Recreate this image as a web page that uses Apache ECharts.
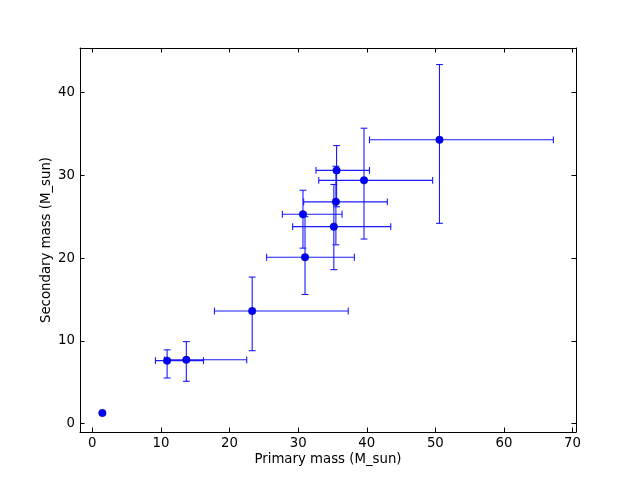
<!DOCTYPE html>
<html>
<head>
<meta charset="utf-8">
<script src="https://cdn.jsdelivr.net/npm/echarts@6/dist/echarts.min.js"></script>
<style>html,body{margin:0;padding:0;background:#fff}#c{width:640px;height:480px}</style>
</head>
<body>
<div id="c"></div>
<script>
// Primary mass (M_sun) with lower/upper errors
var primary     = [1.46, 10.9, 13.7, 23.3, 31.0, 30.7, 35.2, 35.5, 35.6, 39.6, 50.6];
var primaryLo   = [0,    1.7,  3.2,  5.5,  5.6,  3.0,  6.0,  4.7,  3.0,  6.6,  10.2];
var primaryHi   = [0,    5.3,  8.8,  14.0, 7.2,  5.7,  8.3,  7.5,  4.8,  10.0, 16.6];
// Secondary mass (M_sun) with lower/upper errors
var secondary   = [1.27, 7.6,  7.7,  13.6, 20.1, 25.3, 23.8, 26.8, 30.6, 29.4, 34.3];
var secondaryLo = [0,    2.1,  2.6,  4.8,  4.5,  4.1,  5.2,  5.2,  4.4,  7.1,  10.1];
var secondaryHi = [0,    1.3,  2.2,  4.1,  4.9,  2.9,  5.1,  4.3,  3.0,  6.3,  9.1];
var xTicks = [0, 10, 20, 30, 40, 50, 60, 70];
var yTicks = [0, 10, 20, 30, 40];

var points = primary.map(function (x, i) { return [x, secondary[i]]; });
var errData = primary.map(function (x, i) {
  return [x, secondary[i], x - primaryLo[i], x + primaryHi[i], secondary[i] - secondaryLo[i], secondary[i] + secondaryHi[i]];
});

var font = 'DejaVu Sans';
var chart = echarts.init(document.getElementById('c'), null, {renderer: 'canvas'});
var lineStyle = {stroke: '#1a1aff', lineWidth: 1.1};
var cap = 3.4;

function axisCommon(pos, show, ticks) {
  return {
    type: 'value', position: pos,
    nameMoveOverlap: false,
    axisLine: {show: true, onZero: false, lineStyle: {color: '#000', width: 1}},
    axisTick: {show: true, inside: true, length: 4.5, customValues: ticks, lineStyle: {color: '#000', width: 1}},
    axisLabel: {show: show, customValues: ticks, color: '#000', fontFamily: font, fontSize: 13.3, margin: 5},
    splitLine: {show: false}
  };
}

var xb = axisCommon('bottom', true, xTicks);
xb.min = -1.8; xb.max = 70.5;
xb.name = 'Primary mass (M_sun)'; xb.nameLocation = 'middle'; xb.nameGap = 21;
xb.nameTextStyle = {color: '#000', fontFamily: font, fontSize: 13.3};
var xt = axisCommon('top', false, xTicks);
xt.min = -1.8; xt.max = 70.5;
var yl = axisCommon('left', true, yTicks);
yl.min = -1.03; yl.max = 45.4;
yl.name = 'Secondary mass (M_sun)'; yl.nameLocation = 'middle'; yl.nameGap = 27;
yl.nameTextStyle = {color: '#000', fontFamily: font, fontSize: 13.3};
var yr = axisCommon('right', false, yTicks);
yr.min = -1.03; yr.max = 45.4;

chart.setOption({
  animation: false,
  backgroundColor: '#fff',
  grid: {left: 80, right: 64, top: 48, bottom: 48, containLabel: false},
  xAxis: [xb, xt],
  yAxis: [yl, yr],
  series: [
    {
      type: 'custom',
      xAxisIndex: 0, yAxisIndex: 0,
      data: errData,
      renderItem: function (params, api) {
        var x = api.value(0), y = api.value(1);
        var xl = api.value(2), xh = api.value(3), yl0 = api.value(4), yh = api.value(5);
        if (xl === xh && yl0 === yh) return null;
        var pL = api.coord([xl, y]), pR = api.coord([xh, y]);
        var pB = api.coord([x, yl0]), pT = api.coord([x, yh]);
        var st = lineStyle;
        function ln(a, b, c, d) { return {type: 'line', shape: {x1: a, y1: b, x2: c, y2: d}, style: st}; }
        return {type: 'group', children: [
          ln(pL[0], pL[1], pR[0], pR[1]),
          ln(pL[0], pL[1] - cap, pL[0], pL[1] + cap),
          ln(pR[0], pR[1] - cap, pR[0], pR[1] + cap),
          ln(pB[0], pB[1], pT[0], pT[1]),
          ln(pB[0] - cap, pB[1], pB[0] + cap, pB[1]),
          ln(pT[0] - cap, pT[1], pT[0] + cap, pT[1])
        ]};
      },
      z: 2
    },
    {
      type: 'scatter',
      xAxisIndex: 0, yAxisIndex: 0,
      data: points,
      symbol: 'circle', symbolSize: 7.5,
      itemStyle: {color: '#0000ff', borderColor: '#00008a', borderWidth: 0.5, opacity: 1},
      z: 3
    }
  ]
});
</script>
</body>
</html>
